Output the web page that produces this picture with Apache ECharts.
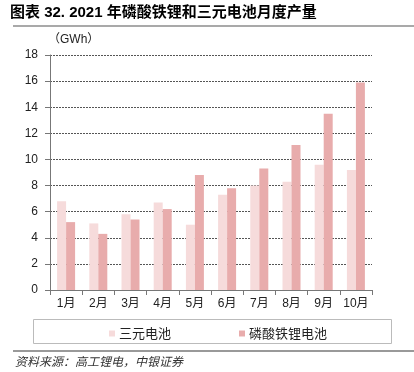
<!DOCTYPE html>
<html>
<head>
<meta charset="utf-8">
<script src="https://cdn.jsdelivr.net/npm/echarts@6/dist/echarts.min.js"></script>
<style>html,body{margin:0;padding:0;background:#fff}#c{width:414px;height:372px}</style>
</head>
<body>
<div id="c"></div>
<script>
var categories = ['1月','2月','3月','4月','5月','6月','7月','8月','9月','10月'];
var ternary = [6.8, 5.1, 5.8, 6.7, 5.0, 7.3, 8.0, 8.3, 9.6, 9.2];
var lfp = [5.2, 4.3, 5.4, 6.2, 8.8, 7.8, 9.3, 11.1, 13.5, 15.9];
var seriesNames = ['三元电池', '磷酸铁锂电池'];
var yTicks = {min: 0, max: 18, interval: 2};

var chart = echarts.init(document.getElementById('c'), null, {renderer: 'canvas'});
var cjk = '"Noto Sans CJK SC", sans-serif';
chart.setOption({
  animation: false,
  textStyle: {fontFamily: 'Arial, "Liberation Sans", ' + cjk},
  grid: {left: 50, right: 42, top: 55, bottom: 82, containLabel: false},
  legend: {
    data: seriesNames,
    left: 104, top: 322,
    itemWidth: 6, itemHeight: 6, itemGap: 68,
    icon: 'rect',
    textStyle: {fontFamily: cjk, fontSize: 13, color: '#222', padding: [0,0,0,-1]}
  },
  graphic: [
    {type: 'text', left: 10, top: 5, style: {text: '图表 32. 2021 年磷酸铁锂和三元电池月度产量', font: 'bold 15px "Liberation Sans", "Noto Sans CJK SC"', fill: '#000'}},
    {type: 'line', shape: {x1: 13, y1: 26, x2: 414, y2: 26}, style: {stroke: '#555', lineWidth: 1.2}},
    {type: 'text', left: 48, top: 34, style: {text: '（GWh）', font: '12px "Liberation Sans", "Noto Sans CJK SC"', fill: '#222'}},
    {type: 'rect', shape: {x: 33.5, y: 319.5, width: 358, height: 24}, style: {fill: 'none', stroke: '#bbb', lineWidth: 1}},
    {type: 'line', shape: {x1: 13, y1: 351, x2: 414, y2: 351}, style: {stroke: '#777', lineWidth: 1.5}},
    {type: 'text', left: 15, top: 355, style: {text: '资料来源：高工锂电，中银证券', font: 'italic 12px "Noto Sans CJK SC"', fill: '#333'}}
  ],
  xAxis: {
    type: 'category', data: categories,
    axisLine: {lineStyle: {color: '#777'}},
    axisTick: {show: true, alignWithLabel: false, lineStyle: {color: '#777'}},
    axisLabel: {color: '#222', fontSize: 12, margin: 8, interval: 0}
  },
  yAxis: {
    type: 'value', min: yTicks.min, max: yTicks.max, interval: yTicks.interval,
    axisLine: {show: true, lineStyle: {color: '#777'}},
    axisTick: {show: true, lineStyle: {color: '#777'}},
    axisLabel: {color: '#222', fontSize: 12, margin: 12},
    splitLine: {lineStyle: {color: '#555', type: [2, 1], width: 1}}
  },
  series: [
    {name: seriesNames[0], type: 'bar', data: ternary, barWidth: 9, barGap: '0%', itemStyle: {color: '#F6DBDB'}},
    {name: seriesNames[1], type: 'bar', data: lfp, barWidth: 9, barGap: '0%', itemStyle: {color: '#E8ACAC'}}
  ]
});
</script>
</body>
</html>
